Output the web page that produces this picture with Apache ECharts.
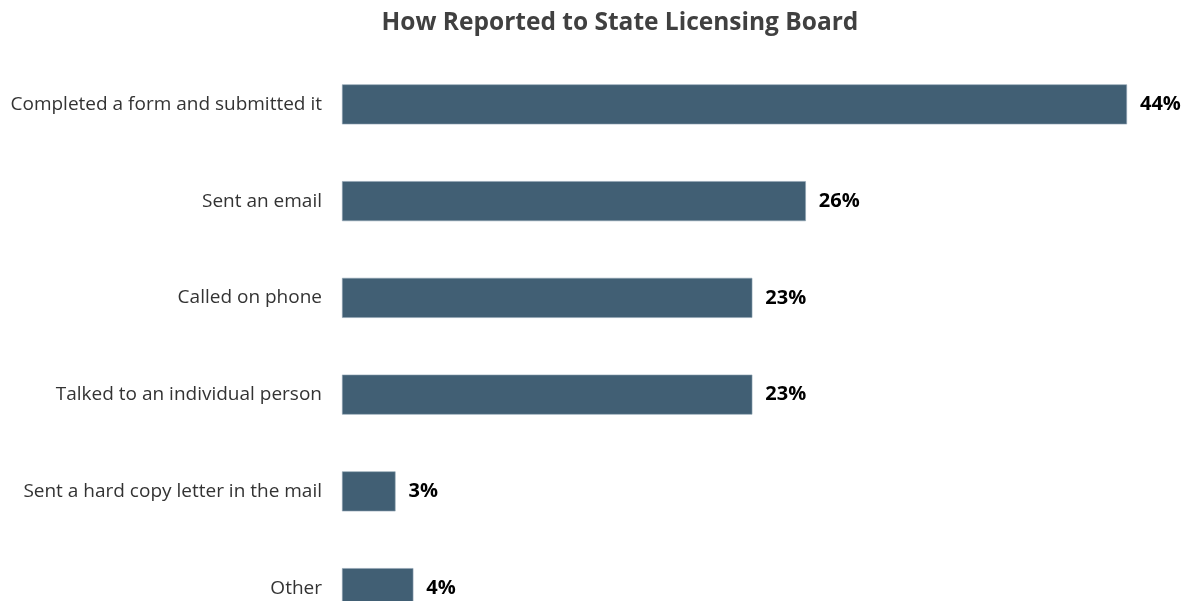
<!DOCTYPE html>
<html>
<head>
<meta charset="utf-8">
<script src="https://cdn.jsdelivr.net/npm/echarts@6/dist/echarts.min.js"></script>
<style>
  html, body { margin: 0; padding: 0; background: #ffffff; }
  #chart { width: 1190px; height: 601px; }
</style>
</head>
<body>
<div id="chart"></div>
<script>
// Reporting channels, top to bottom
const categories = [
  'Completed a form and submitted it',
  'Sent an email',
  'Called on phone',
  'Talked to an individual person',
  'Sent a hard copy letter in the mail',
  'Other'
];
// Share of respondents (%)
const shares = [44, 26, 23, 23, 3, 4];

const chart = echarts.init(document.getElementById('chart'), null, { renderer: 'canvas' });

chart.setOption({
  backgroundColor: '#ffffff',
  animation: false,
  title: {
    text: 'How Reported to State Licensing Board',
    left: 615,
    textAlign: 'center',
    top: 6,
    textStyle: {
      fontFamily: 'Open Sans',
      fontWeight: 'bold',
      fontSize: 24.5,
      color: '#404040'
    }
  },
  // the last row runs past the bottom edge of the canvas
  grid: {
    left: 342,
    right: 63,
    top: 56,
    height: 580.5,
    outerBoundsMode: 'none',
    containLabel: false
  },
  xAxis: {
    type: 'value',
    min: 0,
    max: 44,
    show: false
  },
  yAxis: {
    type: 'category',
    inverse: true,
    data: categories,
    axisLine: { show: false },
    axisTick: { show: false },
    splitLine: { show: false },
    axisLabel: {
      margin: 20,
      fontFamily: 'Open Sans',
      fontSize: 19,
      color: '#333333'
    }
  },
  series: [{
    type: 'bar',
    data: shares,
    barWidth: 40,
    itemStyle: {
      color: '#415f74',
      borderColor: '#8fa3b1',
      borderWidth: 0.6
    },
    label: {
      show: true,
      position: 'right',
      distance: 13,
      formatter: p => p.value + '%',
      fontFamily: 'Open Sans',
      fontWeight: 'bold',
      fontSize: 20,
      color: '#000000'
    }
  }]
});
</script>
</body>
</html>
